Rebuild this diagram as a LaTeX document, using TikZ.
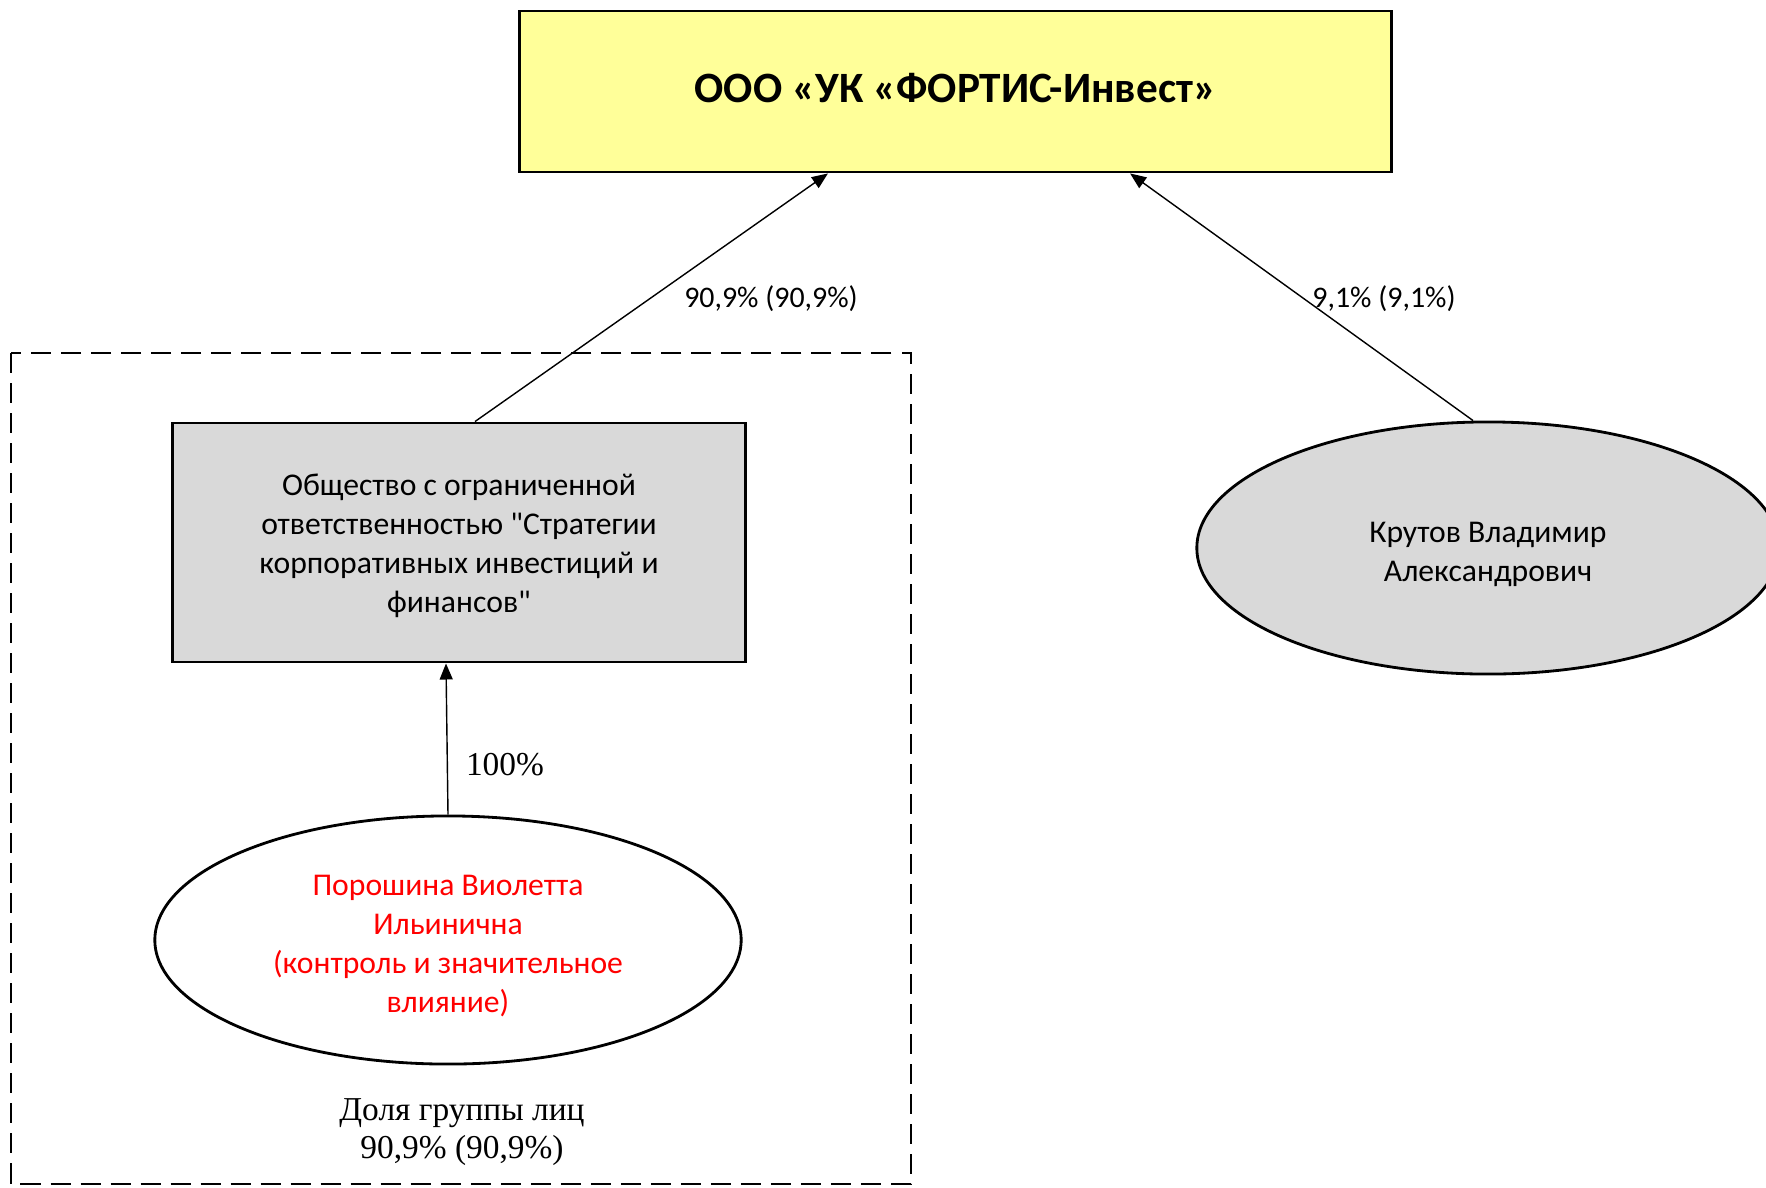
\documentclass[tikz,border=0pt]{standalone}
\usepackage{fontspec}
\setmainfont{Carlito}[Ligatures=TeXOff]
\newfontfamily\timesfont{Liberation Serif}
\usetikzlibrary{shapes.geometric,arrows.meta}

\definecolor{ukyellow}{HTML}{FFFF99}
\definecolor{ukgrey}{HTML}{D9D9D9}

\begin{document}
\begin{tikzpicture}[x=0.01cm,y=-0.01cm,
  firm/.style={draw,line width=0.8pt,rectangle,inner sep=0pt,align=center},
  person/.style={draw,line width=0.8pt,ellipse,inner sep=0pt,align=center},
  share/.style={-{Triangle[length=0.16cm,width=0.13cm]},line width=0.4pt},
  lbl/.style={inner sep=0pt,font=\fontsize{8.5}{10}\selectfont}]
\clip (0,0) rectangle (1766,1187);
% group frame
\draw[line width=0.8pt,dash pattern=on 0.2cm off 0.1cm] (11,353) rectangle (911,1184);
% nodes
\node[firm,fill=ukyellow,minimum width=8.71cm,minimum height=1.61cm,text height=0.3cm,text depth=0.09cm,
  font=\fontsize{12.3}{15}\selectfont\bfseries] (uk) at (955.5,91.5) {ООО «УК «ФОРТИС-Инвест»};
\node[firm,fill=ukgrey,minimum width=5.72cm,minimum height=2.39cm,text height=1.46cm,
  font=\fontsize{9}{11.1}\selectfont] (skif) at (459,542.5)
  {Общество с ограниченной\\ответственностью "Стратегии\\корпоративных инвестиций и\\финансов"};
\node[person,fill=white,minimum width=5.86cm,minimum height=2.48cm,text=red,text height=1.5cm,
  font=\fontsize{9}{11.1}\selectfont] (porosh) at (448,940)
  {Порошина Виолетта\\Ильинична\\(контроль и значительное\\влияние)};
\node[person,fill=ukgrey,minimum width=5.82cm,minimum height=2.52cm,text height=0.72cm,
  font=\fontsize{9}{11.1}\selectfont] (krutov) at (1488,548)
  {Крутов Владимир\\Александрович};
% shares
\draw[share] ([xshift=0.16cm]skif.north) -- ([xshift=-1.275cm]uk.south);
\draw[share] ([xshift=-0.15cm]krutov.north) -- ([xshift=1.745cm]uk.south);
\draw[share] (porosh.north) -- ([xshift=-0.13cm]skif.south);
\node[lbl] (l1) at (771,299) {90,9\% (90,9\%)};
\node[lbl] (l2) at (1384,299) {9,1\% (9,1\%)};
\node[lbl,font=\timesfont\fontsize{9.5}{11}\selectfont] (l3) at (505,765) {100\%};
\node[lbl,align=center,font=\timesfont\fontsize{9.5}{11}\selectfont] (grp) at (462,1132)
  {Доля группы лиц\\90,9\% (90,9\%)};
\end{tikzpicture}
\end{document}
